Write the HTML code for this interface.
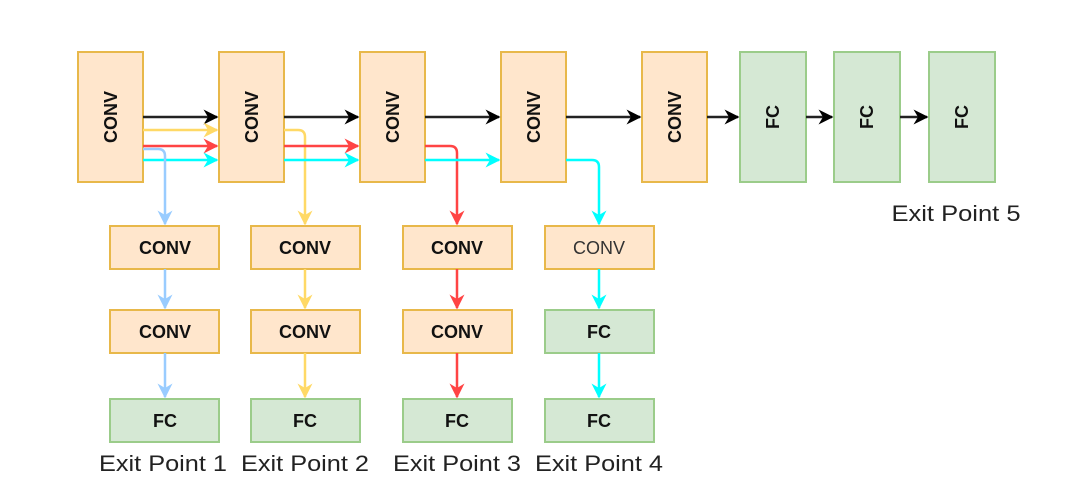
<!DOCTYPE html>
<html><head><meta charset="utf-8"><style>
html,body{margin:0;padding:0;background:#fff;width:1080px;height:488px;overflow:hidden}
text{font-family:"Liberation Sans",Arial,sans-serif}
</style></head><body>
<svg width="1080" height="488" viewBox="0 0 1080 488" xmlns="http://www.w3.org/2000/svg">
<defs>
<marker id="mk" viewBox="0 0 10 10" refX="9" refY="5" markerWidth="6" markerHeight="6" orient="auto"><path d="M0,0 L10,5 L0,10 L3,5 z" fill="#000"/></marker>
<marker id="my" viewBox="0 0 10 10" refX="9" refY="5" markerWidth="6" markerHeight="6" orient="auto"><path d="M0,0 L10,5 L0,10 L3,5 z" fill="#ffd966"/></marker>
<marker id="mr" viewBox="0 0 10 10" refX="9" refY="5" markerWidth="6" markerHeight="6" orient="auto"><path d="M0,0 L10,5 L0,10 L3,5 z" fill="#ff4444"/></marker>
<marker id="mc" viewBox="0 0 10 10" refX="9" refY="5" markerWidth="6" markerHeight="6" orient="auto"><path d="M0,0 L10,5 L0,10 L3,5 z" fill="#00ffff"/></marker>
<marker id="mb" viewBox="0 0 10 10" refX="9" refY="5" markerWidth="6" markerHeight="6" orient="auto"><path d="M0,0 L10,5 L0,10 L3,5 z" fill="#99ccff"/></marker>
</defs>
<g fill="#ffe6cc" stroke="#e8b84a" stroke-width="2">
<rect x="78" y="52" width="65" height="130"/>
<rect x="219" y="52" width="65" height="130"/>
<rect x="360" y="52" width="65" height="130"/>
<rect x="501" y="52" width="65" height="130"/>
<rect x="642" y="52" width="65" height="130"/>
<rect x="110" y="226" width="109" height="43"/><rect x="251" y="226" width="109" height="43"/><rect x="403" y="226" width="109" height="43"/><rect x="545" y="226" width="109" height="43"/>
<rect x="110" y="310" width="109" height="43"/><rect x="251" y="310" width="109" height="43"/><rect x="403" y="310" width="109" height="43"/>
</g>
<g fill="#d5e8d4" stroke="#9bcc8a" stroke-width="2">
<rect x="740" y="52" width="66" height="130"/><rect x="834" y="52" width="66" height="130"/><rect x="929" y="52" width="66" height="130"/>
<rect x="545" y="310" width="109" height="43"/>
<rect x="110" y="399" width="109" height="43"/><rect x="251" y="399" width="109" height="43"/><rect x="403" y="399" width="109" height="43"/><rect x="545" y="399" width="109" height="43"/>
</g>
<g fill="none" stroke-width="2.5">
<g stroke="#222" marker-end="url(#mk)">
<path d="M143,117H217"/><path d="M284,117H358"/><path d="M425,117H499"/><path d="M566,117H640"/><path d="M707,117H738"/><path d="M806,117H832"/><path d="M900,117H927"/>
</g>
<g stroke="#ffd966" marker-end="url(#my)">
<path d="M143,130H217"/><path d="M284,130H298Q305,130 305,137V224"/><path d="M305,269V308"/><path d="M305,353V397"/>
</g>
<g stroke="#ff4444" marker-end="url(#mr)">
<path d="M143,146H217"/><path d="M284,146H358"/><path d="M425,146H450Q457,146 457,153V224"/><path d="M457,269V308"/><path d="M457,353V397"/>
</g>
<g stroke="#00ffff" marker-end="url(#mc)">
<path d="M143,160H217"/><path d="M284,160H358"/><path d="M425,160H499"/><path d="M566,160H592Q599,160 599,167V224"/><path d="M599,269V308"/><path d="M599,353V397"/>
</g>
<g stroke="#99ccff" marker-end="url(#mb)">
<path d="M143,149H158Q165,149 165,156V224"/><path d="M165,269V308"/><path d="M165,353V397"/>
</g>
</g>
<g font-weight="bold" font-size="18" fill="#111" text-anchor="middle">
<text transform="translate(117,117) rotate(-90)">CONV</text>
<text transform="translate(258,117) rotate(-90)">CONV</text>
<text transform="translate(399,117) rotate(-90)">CONV</text>
<text transform="translate(540,117) rotate(-90)">CONV</text>
<text transform="translate(681,117) rotate(-90)">CONV</text>
<text transform="translate(779,117) rotate(-90)">FC</text>
<text transform="translate(873,117) rotate(-90)">FC</text>
<text transform="translate(968,117) rotate(-90)">FC</text>
<text x="165" y="254">CONV</text><text x="305" y="254">CONV</text><text x="457" y="254">CONV</text>
<text x="599" y="254" font-weight="normal" fill="#333">CONV</text>
<text x="165" y="338">CONV</text><text x="305" y="338">CONV</text><text x="457" y="338">CONV</text><text x="599" y="338">FC</text>
<text x="165" y="427">FC</text><text x="305" y="427">FC</text><text x="457" y="427">FC</text><text x="599" y="427">FC</text>
</g>
<g font-size="22" fill="#222" text-anchor="middle">
<text x="163" y="471" textLength="128" lengthAdjust="spacingAndGlyphs">Exit Point 1</text>
<text x="305" y="471" textLength="128" lengthAdjust="spacingAndGlyphs">Exit Point 2</text>
<text x="457" y="471" textLength="128" lengthAdjust="spacingAndGlyphs">Exit Point 3</text>
<text x="599" y="471" textLength="128" lengthAdjust="spacingAndGlyphs">Exit Point 4</text>
<text x="956" y="221" textLength="129" lengthAdjust="spacingAndGlyphs">Exit Point 5</text>
</g>
</svg>
</body></html>
